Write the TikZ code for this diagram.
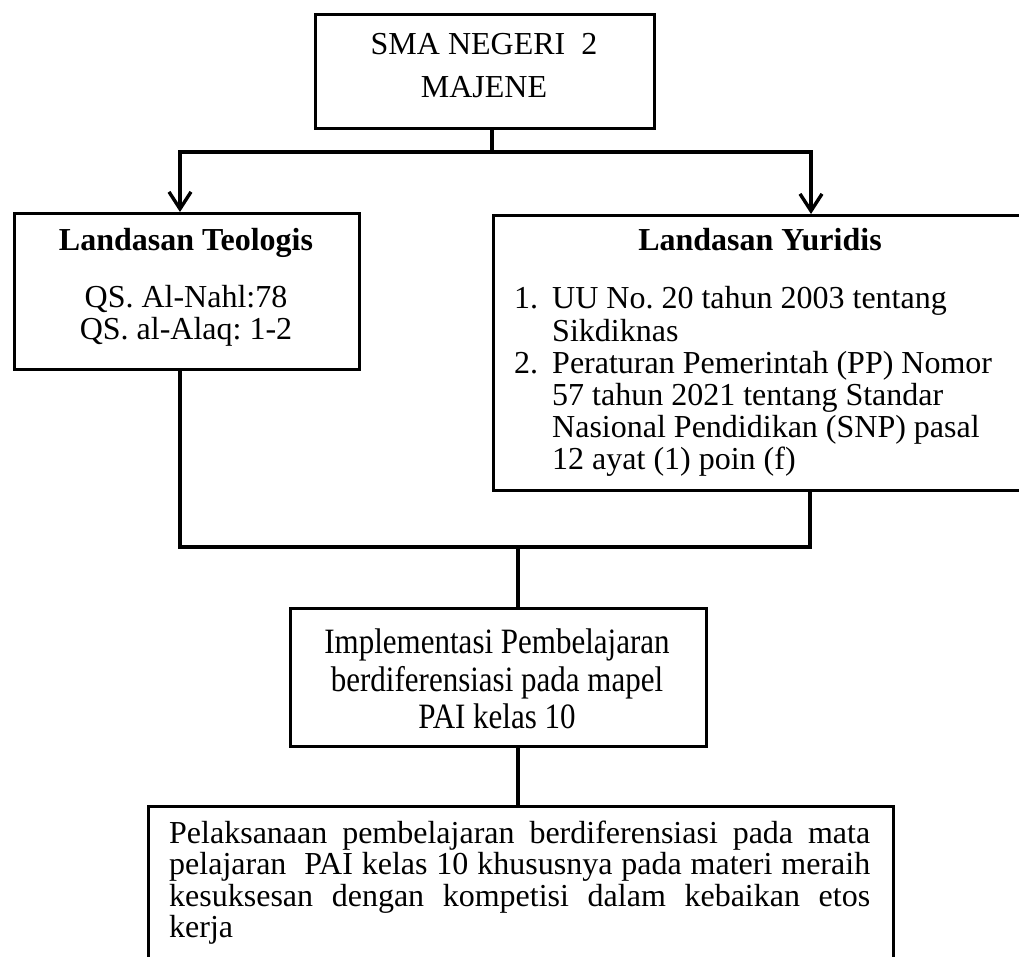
\documentclass[tikz,border=0pt]{standalone}
\usepackage{fontspec}
\usepackage{graphicx}
\setmainfont{Liberation Serif}
\frenchspacing
\usetikzlibrary{arrows.meta}
\tikzset{
  box/.style={draw=black, line width=3.4pt, rectangle, inner sep=0pt, anchor=north west},
  txt/.style={inner sep=0pt, font=\fontsize{32}{33}\selectfont},
  boldtxt/.style={txt, font=\fontsize{32}{33}\selectfont\bfseries},
  midtxt/.style={txt, font=\fontsize{31}{32}\selectfont},
  conn/.style={draw=black, line width=3.4pt},
  tips/.style={{Straight Barb[length=17pt,width=22pt]}-{Straight Barb[length=17pt,width=22pt]}}
}
\begin{document}
\begin{tikzpicture}[x=1pt,y=-1pt]
\clip (0,0) rectangle (1019,956);
\fill[white] (0,0) rectangle (1019,956);
% boxes
\node[box, minimum width=339pt, minimum height=114pt] (sma) at (314,13) {};
\node[box, minimum width=345pt, minimum height=156pt] (teo) at (13,212) {};
\node[box, minimum width=540pt, minimum height=275pt] (yur) at (492,214) {};
\node[box, minimum width=416pt, minimum height=138pt] (mid) at (289,607) {};
\node[box, minimum width=745pt, minimum height=190pt] (bot) at (147,805) {};
% texts
\node[txt, anchor=base] (sma1) at (484,54) {SMA NEGERI\ \ 2};
\node[txt, anchor=base] (sma2) at (484,97) {MAJENE};
\node[boldtxt, anchor=base] (teoh) at (186,250) {Landasan Teologis};
\node[txt, anchor=base] (teo1) at (186,307) {QS. Al-Nahl:78};
\node[txt, anchor=base] (teo2) at (186,339) {QS. al-Alaq: 1-2};
\node[boldtxt, anchor=base] (yurh) at (760,250) {Landasan Yuridis};
\node[txt, anchor=base west] (n1) at (514,308) {1.};
\node[txt, anchor=base west] (y1) at (552,308) {UU No. 20 tahun 2003 tentang};
\node[txt, anchor=base west] (y2) at (552,341) {Sikdiknas};
\node[txt, anchor=base west] (n2) at (514,373) {2.};
\node[txt, anchor=base west] (y3) at (552,373) {Peraturan Pemerintah (PP) Nomor};
\node[txt, anchor=base west] (y4) at (552,405) {57 tahun 2021 tentang Standar};
\node[txt, anchor=base west] (y5) at (552,437) {Nasional Pendidikan (SNP) pasal};
\node[txt, anchor=base west] (y6) at (552,469) {12 ayat (1) poin (f)};
\node[midtxt, anchor=base] (m1) at (497,653) {\scalebox{1}[1.15]{Implementasi Pembelajaran}};
\node[midtxt, anchor=base] (m2) at (497,691) {\scalebox{1}[1.15]{berdiferensiasi pada mapel}};
\node[midtxt, anchor=base] (m3) at (497,728) {\scalebox{1}[1.15]{PAI kelas 10}};
\node[txt, anchor=base west] (b1) at (169,843) {\makebox[701pt][s]{Pelaksanaan pembelajaran berdiferensiasi pada mata}};
\node[txt, anchor=base west] (b2) at (169,874) {\makebox[701pt][s]{pelajaran\ \ PAI kelas 10 khususnya pada materi meraih}};
\node[txt, anchor=base west] (b3) at (169,906) {\makebox[701pt][s]{kesuksesan dengan kompetisi dalam kebaikan etos}};
\node[txt, anchor=base west] (b4) at (169,937) {kerja};
% connectors
\coordinate (j1) at (492,152);
\coordinate (jl) at (180,152);
\coordinate (jr) at (811,152);
\coordinate (bl) at (180,547);
\coordinate (br) at (810,547);
\coordinate (bm) at (518,547);
\draw[conn] (sma.south -| j1) -- (j1);
\draw[conn, tips] (jl |- teo.north) -- (jl) -- (jr) -- (jr |- yur.north);
\draw[conn] (bl |- teo.south) -- (bl) -- (br) -- (br |- yur.south);
\draw[conn] (bm) -- (bm |- mid.north);
\draw[conn] (mid.south -| bm) -- (bot.north -| bm);
\end{tikzpicture}
\end{document}
